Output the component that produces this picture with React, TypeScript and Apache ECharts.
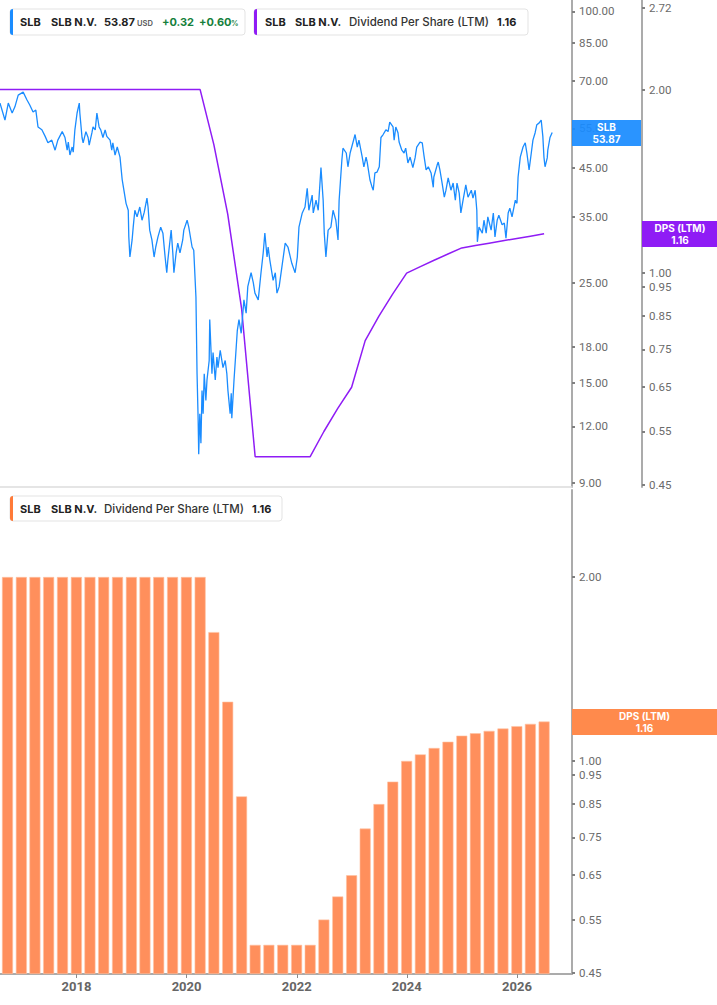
import React, { useEffect, useRef } from "react";
import * as echarts from "echarts";

// ---------- data ----------
// x range of the chart in decimal years
const X_START = 2016.61;
const X_END = 2027.0;

// axis ranges
const PRICE_MIN = 8.8;
const PRICE_MAX = 106;
const DPS_TOP_MIN = 0.446;
const DPS_TOP_MAX = 2.805;
const BAR_MIN = 0.448;
const BAR_MAX = 2.776;

const priceTicks = [100, 85, 70, 55, 45, 35, 25, 18, 15, 12, 9];
const dpsTicksTop = [2.72, 2.0, 1.0, 0.95, 0.85, 0.75, 0.65, 0.55, 0.45];
const dpsTicksBottom = [2.0, 1.0, 0.95, 0.85, 0.75, 0.65, 0.55, 0.45];
const yearTicks = [2018, 2020, 2022, 2024, 2026];

// SLB share price, [decimal year, USD]
const priceHistory: [number, number][] = [
  [2016.61, 62.6], [2016.70, 57.4], [2016.76, 62.6], [2016.83, 59.5], [2016.88, 61.4], [2016.94, 65.2],
  [2017.03, 66.2], [2017.10, 63.6], [2017.15, 62.0], [2017.21, 59.8], [2017.26, 60.4], [2017.30, 55.4],
  [2017.37, 54.6], [2017.43, 52.8], [2017.48, 51.1], [2017.55, 51.8], [2017.61, 49.2], [2017.66, 51.8],
  [2017.74, 54.1], [2017.79, 52.5], [2017.83, 49.2], [2017.85, 51.3], [2017.88, 48.0], [2017.92, 50.0],
  [2017.94, 48.7], [2017.97, 54.6], [2018.01, 59.5], [2018.05, 62.6], [2018.06, 59.5], [2018.10, 52.5],
  [2018.12, 51.1], [2018.17, 54.1], [2018.21, 52.5], [2018.23, 50.5], [2018.28, 53.8], [2018.30, 55.4],
  [2018.34, 54.6], [2018.37, 59.5], [2018.41, 55.4], [2018.44, 54.6], [2018.48, 52.5], [2018.52, 54.6],
  [2018.55, 52.8], [2018.61, 51.8], [2018.64, 49.2], [2018.66, 51.1], [2018.70, 48.0], [2018.74, 50.0],
  [2018.79, 47.5], [2018.83, 42.3], [2018.84, 41.6], [2018.90, 37.5], [2018.94, 36.2], [2018.95, 31.6],
  [2018.97, 28.5], [2019.01, 31.1], [2019.03, 33.2], [2019.06, 36.2], [2019.10, 35.0], [2019.15, 36.8],
  [2019.19, 34.4], [2019.23, 35.8], [2019.28, 38.5], [2019.30, 36.8], [2019.33, 32.7], [2019.37, 31.1],
  [2019.41, 28.5], [2019.44, 30.0], [2019.48, 31.6], [2019.53, 33.2], [2019.57, 32.2], [2019.61, 28.5],
  [2019.64, 26.3], [2019.66, 28.1], [2019.72, 32.7], [2019.75, 29.1], [2019.77, 26.3], [2019.81, 29.1],
  [2019.84, 30.6], [2019.88, 29.1], [2019.93, 31.1], [2019.95, 32.7], [2020.01, 34.4], [2020.04, 33.2],
  [2020.10, 30.0], [2020.13, 29.5], [2020.17, 23.2], [2020.19, 15.7], [2020.21, 12.4], [2020.22, 10.4],
  [2020.24, 12.8], [2020.26, 11.0], [2020.28, 14.4], [2020.30, 12.8], [2020.32, 15.7], [2020.35, 13.7],
  [2020.37, 15.2], [2020.41, 16.8], [2020.42, 20.7], [2020.46, 15.7], [2020.48, 17.5], [2020.52, 15.2],
  [2020.55, 17.1], [2020.57, 16.2], [2020.61, 17.7], [2020.66, 16.2], [2020.70, 16.8], [2020.73, 15.7],
  [2020.75, 14.4], [2020.79, 12.8], [2020.81, 14.2], [2020.82, 12.5], [2020.86, 15.2], [2020.90, 18.0],
  [2020.92, 19.6], [2020.95, 20.7], [2020.99, 19.3], [2021.02, 21.4], [2021.04, 22.9], [2021.08, 21.4],
  [2021.11, 24.5], [2021.17, 26.3], [2021.21, 25.0], [2021.24, 23.7], [2021.30, 22.9], [2021.35, 26.3],
  [2021.39, 29.1], [2021.42, 32.2], [2021.46, 28.5], [2021.48, 30.0], [2021.51, 28.1], [2021.57, 25.3],
  [2021.61, 26.3], [2021.64, 23.7], [2021.68, 24.5], [2021.73, 27.1], [2021.79, 30.6], [2021.84, 30.0],
  [2021.91, 27.6], [2021.97, 26.3], [2022.01, 28.5], [2022.04, 33.2], [2022.10, 35.7], [2022.15, 36.8],
  [2022.19, 40.5], [2022.22, 36.2], [2022.28, 39.1], [2022.30, 35.7], [2022.35, 38.1], [2022.39, 36.2],
  [2022.44, 45.0], [2022.48, 38.1], [2022.50, 32.2], [2022.53, 28.5], [2022.57, 32.7], [2022.62, 33.2],
  [2022.66, 36.2], [2022.71, 34.4], [2022.75, 31.1], [2022.77, 38.1], [2022.82, 46.8], [2022.84, 49.7],
  [2022.90, 48.5], [2022.93, 45.2], [2022.97, 48.5], [2023.02, 51.1], [2023.06, 53.3], [2023.10, 50.0],
  [2023.13, 51.8], [2023.19, 47.5], [2023.22, 45.2], [2023.26, 47.5], [2023.28, 46.3], [2023.33, 42.3],
  [2023.37, 40.7], [2023.39, 40.1], [2023.42, 43.8], [2023.46, 44.0], [2023.50, 45.2], [2023.53, 52.5],
  [2023.57, 53.3], [2023.62, 54.6], [2023.66, 54.1], [2023.69, 56.8], [2023.75, 55.4], [2023.77, 51.8],
  [2023.80, 55.4], [2023.84, 53.8], [2023.86, 51.3], [2023.91, 49.2], [2023.95, 48.5], [2023.98, 49.7],
  [2024.02, 46.1], [2024.06, 47.5], [2024.11, 45.0], [2024.15, 47.3], [2024.18, 50.0], [2024.24, 51.3],
  [2024.28, 51.1], [2024.31, 48.0], [2024.35, 44.5], [2024.39, 45.2], [2024.44, 43.8], [2024.48, 40.7],
  [2024.49, 42.9], [2024.55, 45.6], [2024.57, 46.3], [2024.60, 44.5], [2024.64, 41.6], [2024.68, 38.7],
  [2024.71, 40.1], [2024.75, 42.7], [2024.80, 40.1], [2024.84, 41.6], [2024.88, 38.1], [2024.91, 41.6],
  [2024.95, 39.5], [2024.98, 35.7], [2025.02, 38.1], [2025.07, 41.2], [2025.11, 38.7], [2025.17, 40.1],
  [2025.20, 38.5], [2025.24, 40.1], [2025.27, 36.2], [2025.28, 30.8], [2025.31, 33.2], [2025.37, 32.2],
  [2025.40, 34.4], [2025.44, 32.2], [2025.47, 35.0], [2025.53, 32.7], [2025.57, 35.7], [2025.60, 31.6],
  [2025.64, 34.4], [2025.67, 35.3], [2025.73, 33.6], [2025.77, 33.9], [2025.80, 31.4], [2025.84, 35.7],
  [2025.87, 36.6], [2025.91, 35.0], [2025.97, 38.1], [2026.00, 37.5], [2026.02, 42.9], [2026.06, 47.5],
  [2026.11, 50.0], [2026.15, 51.1], [2026.18, 48.5], [2026.22, 44.5], [2026.26, 48.5], [2026.29, 51.8],
  [2026.33, 53.8], [2026.36, 56.0], [2026.40, 56.5], [2026.44, 57.4], [2026.47, 52.8], [2026.49, 47.5],
  [2026.51, 45.2], [2026.55, 47.3], [2026.56, 49.2], [2026.60, 52.5], [2026.64, 53.87],
];

// Dividend per share, last twelve months, at quarter ends
const dpsDates = [
  "2016-06-30", "2016-09-30", "2016-12-31",
  "2017-03-31", "2017-06-30", "2017-09-30", "2017-12-31",
  "2018-03-31", "2018-06-30", "2018-09-30", "2018-12-31",
  "2019-03-31", "2019-06-30", "2019-09-30", "2019-12-31",
  "2020-03-31", "2020-06-30", "2020-09-30", "2020-12-31",
  "2021-03-31", "2021-06-30", "2021-09-30", "2021-12-31",
  "2022-03-31", "2022-06-30", "2022-09-30", "2022-12-31",
  "2023-03-31", "2023-06-30", "2023-09-30", "2023-12-31",
  "2024-03-31", "2024-06-30", "2024-09-30", "2024-12-31",
  "2025-03-31", "2025-06-30", "2025-09-30", "2025-12-31",
  "2026-03-31", "2026-06-30",
];
const dpsValues = [
  2.0, 2.0, 2.0,
  2.0, 2.0, 2.0, 2.0,
  2.0, 2.0, 2.0, 2.0,
  2.0, 2.0, 2.0, 2.0,
  2.0, 1.625, 1.25, 0.875,
  0.5, 0.5, 0.5, 0.5,
  0.5, 0.55, 0.6, 0.65,
  0.775, 0.85, 0.925, 1.0,
  1.025, 1.05, 1.075, 1.1,
  1.11, 1.12, 1.13, 1.14,
  1.15, 1.16,
];

const LAST_PRICE = "53.87";
const LAST_DPS = "1.16";

// ---------- helpers ----------
const lg = (v: number) => Math.log10(v);
function decYear(t: number): number {
  const y = Math.floor(t);
  const a = Date.UTC(y, 0, 1);
  const b = Date.UTC(y + 1, 0, 1);
  return a + (t - y) * (b - a);
}
const dateTs = (s: string) => Date.parse(s + "T00:00:00Z");

const BLUE = "#1a8cff";
const PURPLE = "#8f1cf5";
const ORANGE = "#ff8f5c";
const AXIS_GREY = "#ababab";
const LABEL_GREY = "#6b6b6b";
const LEGEND_FONT = "Inter, 'Noto Sans', sans-serif";
const AXIS_FONT = "Roboto, 'Noto Sans', sans-serif";
const B = `bold 11px ${LEGEND_FONT}`;
const R = `500 11.5px ${LEGEND_FONT}`;
const TAG = `bold 10px ${LEGEND_FONT}`;

function txt(text: string, x: number, y: number, font: string, fill: string, align = "left") {
  return {
    type: "text",
    x,
    y,
    z: 110,
    silent: true,
    style: {
      text,
      font,
      fill,
      align,
      verticalAlign: "middle",
      textAlign: align,
      textVerticalAlign: "middle",
    },
  };
}

function box(x: number, y: number, w: number, h: number, barColor: string) {
  return [
    {
      type: "rect",
      z: 100,
      silent: true,
      shape: { x, y, width: w, height: h, r: 3 },
      style: { fill: "#ffffff", stroke: "#e3e3e3", lineWidth: 1 },
    },
    {
      type: "rect",
      z: 101,
      silent: true,
      shape: { x, y, width: 3, height: h, r: [3, 0, 0, 3] },
      style: { fill: barColor },
    },
  ];
}

function valueAxis(
  gridIndex: number,
  min: number,
  max: number,
  ticks: number[],
  toAxis: (v: number) => number,
  fromAxis: (v: number) => string,
  offset = 0
) {
  const custom = ticks.map(toAxis);
  return {
    type: "value",
    gridIndex,
    position: "right",
    offset,
    min: toAxis(min),
    max: toAxis(max),
    axisLine: { show: true, lineStyle: { color: AXIS_GREY, width: 2 } },
    axisTick: {
      show: true,
      customValues: custom,
      length: 3,
      lineStyle: { color: "#808080", width: 2 },
    },
    axisLabel: {
      show: true,
      customValues: custom,
      formatter: (v: number) => fromAxis(v),
      color: LABEL_GREY,
      fontSize: 11.5,
      fontFamily: AXIS_FONT,
      margin: 7,
    },
    splitLine: { show: false },
  };
}

export default function App() {
  const ref = useRef<HTMLDivElement>(null);

  useEffect(() => {
    if (!ref.current) return;
    const chart = echarts.init(ref.current, undefined, { renderer: "svg" });

    const xMin = decYear(X_START);
    const xMax = decYear(X_END);
    const yearTs = yearTicks.map((y) => Date.UTC(y, 0, 1));

    const priceData = priceHistory.map(([t, p]) => [decYear(t), lg(p)]);
    const dpsLine = dpsDates.map((d, i) => [dateTs(d), lg(dpsValues[i])]);
    const dpsBars = dpsDates.map((d, i) => [dateTs(d), lg(dpsValues[i] / BAR_MIN)]);

    const graphic: any[] = [
      // top legend boxes
      ...box(10, 9, 235, 26, BLUE),
      txt("SLB", 20, 22, B, "#222"),
      txt("SLB N.V.", 51, 22, B, "#222"),
      txt(LAST_PRICE, 104, 22, B, "#222"),
      txt("USD", 137, 23.5, `600 7.5px ${LEGEND_FONT}`, "#555"),
      txt("+0.32", 162, 22, B, "#16803c"),
      txt("+0.60", 199, 22, B, "#16803c"),
      txt("%", 231, 23.5, `600 7.5px ${LEGEND_FONT}`, "#16803c"),

      ...box(254, 9, 274, 26, PURPLE),
      txt("SLB", 265, 22, B, "#222"),
      txt("SLB N.V.", 295, 22, B, "#222"),
      txt("Dividend Per Share (LTM)", 349, 22, R, "#333"),
      txt(LAST_DPS, 497, 22, B, "#222"),

      // bottom legend box
      ...box(10, 496, 272, 25, "#ff7a38"),
      txt("SLB", 20, 508.5, B, "#222"),
      txt("SLB N.V.", 51, 508.5, B, "#222"),
      txt("Dividend Per Share (LTM)", 104, 508.5, R, "#333"),
      txt(LAST_DPS, 252, 508.5, B, "#222"),

      // last-value markers on the axes
      {
        type: "rect",
        z: 100,
        silent: true,
        shape: { x: 572, y: 120, width: 69, height: 26 },
        style: { fill: BLUE, opacity: 0.93 },
      },
      txt("SLB", 606.5, 127, TAG, "#fff", "center"),
      txt(LAST_PRICE, 606.5, 138.5, TAG, "#fff", "center"),
      {
        type: "rect",
        z: 100,
        silent: true,
        shape: { x: 642, y: 221, width: 75, height: 26 },
        style: { fill: PURPLE },
      },
      txt("DPS (LTM)", 680, 228, TAG, "#fff", "center"),
      txt(LAST_DPS, 680, 239.5, TAG, "#fff", "center"),
      {
        type: "rect",
        z: 100,
        silent: true,
        shape: { x: 572, y: 709, width: 145, height: 26 },
        style: { fill: "#ff8a4c" },
      },
      txt("DPS (LTM)", 644.5, 716, TAG, "#fff", "center"),
      txt(LAST_DPS, 644.5, 727.5, TAG, "#fff", "center"),
    ];

    const option: any = {
      animation: false,
      backgroundColor: "#ffffff",
      textStyle: { fontFamily: AXIS_FONT },
      grid: [
        { left: 0, top: 0, width: 572, height: 487, containLabel: false, outerBoundsMode: "none" },
        { left: 0, top: 490, width: 572, height: 484, containLabel: false, outerBoundsMode: "none" },
      ],
      xAxis: [
        {
          type: "value",
          gridIndex: 0,
          min: xMin,
          max: xMax,
          axisLine: { show: true, onZero: false, lineStyle: { color: "#dcdcdc", width: 1.5 } },
          axisTick: { show: false },
          axisLabel: { show: false },
          splitLine: { show: false },
        },
        {
          type: "value",
          gridIndex: 1,
          min: xMin,
          max: xMax,
          axisLine: { show: true, onZero: false, lineStyle: { color: AXIS_GREY, width: 2 } },
          axisTick: {
            show: true,
            customValues: yearTs,
            length: 4,
            lineStyle: { color: "#8a8a8a", width: 1 },
          },
          axisLabel: {
            show: true,
            customValues: yearTs,
            formatter: (v: number) => String(new Date(v).getUTCFullYear()),
            color: "#666",
            fontWeight: "bold",
            fontSize: 13,
            fontFamily: AXIS_FONT,
            margin: 6,
          },
          splitLine: { show: false },
        },
      ],
      yAxis: [
        valueAxis(0, PRICE_MIN, PRICE_MAX, priceTicks, lg, (v) => Math.pow(10, v).toFixed(2)),
        valueAxis(0, DPS_TOP_MIN, DPS_TOP_MAX, dpsTicksTop, lg, (v) => Math.pow(10, v).toFixed(2), 70),
        valueAxis(
          1,
          BAR_MIN,
          BAR_MAX,
          dpsTicksBottom,
          (v) => lg(v / BAR_MIN),
          (v) => (BAR_MIN * Math.pow(10, v)).toFixed(2)
        ),
      ],
      series: [
        {
          type: "line",
          name: "DPS (LTM)",
          xAxisIndex: 0,
          yAxisIndex: 1,
          data: dpsLine,
          showSymbol: false,
          symbol: "none",
          lineStyle: { color: PURPLE, width: 1.5 },
          itemStyle: { color: PURPLE },
          clip: true,
          z: 2,
        },
        {
          type: "line",
          name: "SLB",
          xAxisIndex: 0,
          yAxisIndex: 0,
          data: priceData,
          showSymbol: false,
          symbol: "none",
          lineStyle: { color: BLUE, width: 1.3 },
          itemStyle: { color: BLUE },
          clip: true,
          z: 3,
        },
        {
          type: "bar",
          name: "DPS (LTM) bars",
          xAxisIndex: 1,
          yAxisIndex: 2,
          data: dpsBars,
          barWidth: 11,
          itemStyle: { color: ORANGE, borderColor: "#ffc3a3", borderWidth: 0.6 },
          clip: true,
        },
      ],
      graphic,
    };

    chart.setOption(option);
    return () => {
      chart.dispose();
    };
  }, []);

  return (
    <div
      ref={ref}
      style={{ position: "absolute", left: 0, top: 0, width: 717, height: 1005, background: "#fff" }}
    />
  );
}
